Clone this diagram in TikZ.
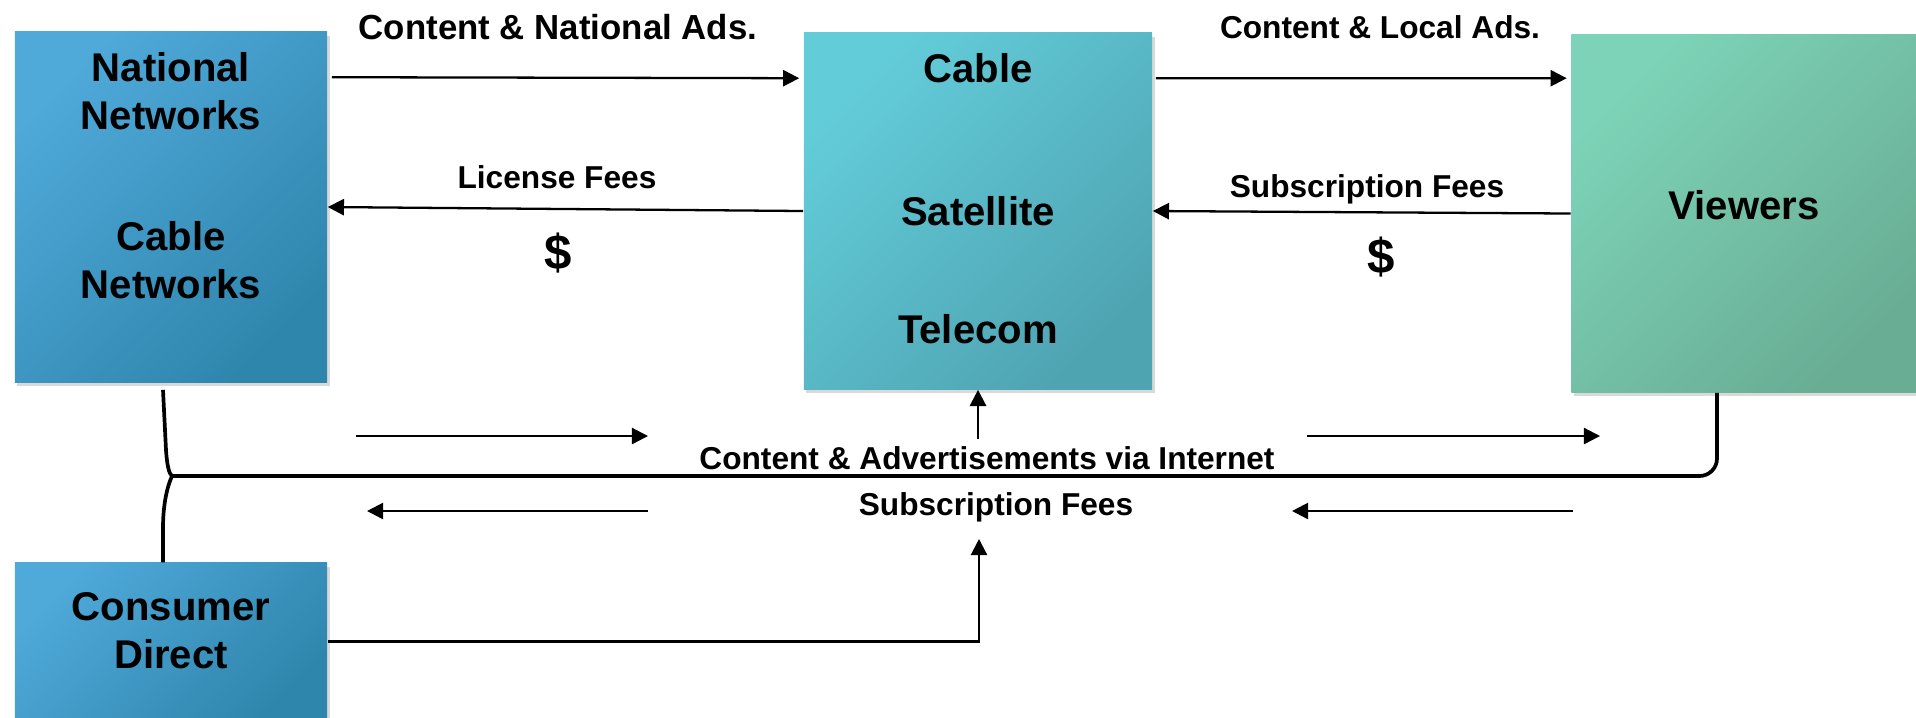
\documentclass[tikz,border=0pt]{standalone}
\usepackage{fontspec}
\setmainfont{Liberation Sans}
\usepackage{tikz}
\usetikzlibrary{positioning}
\usetikzlibrary{arrows.meta, shadows, calc}
\definecolor{netlight}{HTML}{4FA9D9}
\definecolor{netdark}{HTML}{2F86AD}
\definecolor{distlight}{HTML}{63CCD9}
\definecolor{distdark}{HTML}{4FA4B2}
\definecolor{viewlight}{HTML}{7DD3B7}
\definecolor{viewdark}{HTML}{69AD95}
\tikzstyle{party} = [rectangle, align=center, draw=none, font=\fontsize{11.4}{13.7}\selectfont\bfseries, drop shadow={shadow xshift=0.7pt, shadow yshift=-1.2pt, opacity=0.3}]
\tikzstyle{netbox} = [party, top color=netlight, bottom color=netdark, shading angle=45]
\tikzstyle{distbox} = [party, top color=distlight, bottom color=distdark, shading angle=45]
\tikzstyle{viewbox} = [party, top color=viewlight, bottom color=viewdark, shading angle=45]
\tikzstyle{lbl} = [font=\fontsize{9}{11}\selectfont\bfseries, inner sep=2pt]
\tikzstyle{money} = [font=\fontsize{14}{16}\selectfont\bfseries, inner sep=1pt]
\tikzstyle{flow} = [line width=0.65pt, -{Triangle[length=4.6pt, width=4.6pt]}]
\tikzstyle{bus} = [line width=1.05pt]

\begin{document}
\begin{tikzpicture}[x=0.01cm, y=-0.01cm]
      \useasboundingbox (0,0) rectangle (1916,717);
      %%%%%%%%%%%%%%%%%%%%%%%%%%%%%%%%%%%%%%%
      % the four parties
      \draw (171,207) node (nat) [netbox, minimum width=3.12cm, minimum height=3.5cm, text depth=18pt] {National\\Networks\\[20.6pt]Cable\\Networks};
      \draw (978,211) node (dist) [distbox, minimum width=3.48cm, minimum height=3.56cm, text depth=7pt] {Cable\\[26.8pt]Satellite\\[20pt]Telecom};
      \draw (1744,213.5) node (view) [viewbox, minimum width=3.45cm, minimum height=3.57cm, text depth=5pt] {Viewers};
      \draw (171,641.5) node (direct) [netbox, minimum width=3.12cm, minimum height=1.57cm, text depth=6.5pt] {Consumer\\Direct};
      % labels
      \draw (558,27) node (natads) [lbl, font=\fontsize{9.9}{12}\selectfont\bfseries] {Content \& National Ads.};
      \draw (1380,27) node (locads) [lbl] {Content \& Local Ads.};
      \draw (557,177) node (licfee) [lbl] {License Fees};
      \draw (558,253) node (cash1) [money] {\$};
      \draw (1367,189) node (subfee) [lbl] {Subscription Fees};
      \draw (1381,257) node (cash2) [money] {\$};
      \draw (987,458) node (inet) [lbl] {Content \& Advertisements via Internet};
      \draw (996,507) node (subs) [lbl] {Subscription Fees};
      %\draw (171,476) node (hub) [draw] {};
      \coordinate (hub) at (172,476);
      \coordinate (vdrop) at ($(view.south)+(-27,0)$);
      \coordinate (upin) at (979,539);
      % free arrows along the internet line
      \coordinate (o1) at (356,436);
      \coordinate (o2) at (648,436);
      \coordinate (o3) at (1307,436);
      \coordinate (o4) at (1600,436);
      \coordinate (b1) at (648,511);
      \coordinate (b2) at (367,511);
      \coordinate (b3) at (1573,511);
      \coordinate (b4) at (1292,511);
      % top row
      \draw[flow] ($(nat.north east)+(4,46)$)--($(dist.north west)+(-4,46)$);
      \draw[flow] ($(dist.north east)+(3,46)$)--($(view.north west)+(-4,44)$);
      \draw[flow] (dist.west)--(nat.east);
      \draw[flow] (view.west)--(dist.east);
      % internet line
      \draw[bus] ($(nat.south)+(-8,7)$)--(166,450) .. controls (167,465) and (169,474) .. (hub);
      \draw[bus] (hub) .. controls (167,487) and (163,505) .. (163,528) .. controls (163,545) and (163,555) .. ($(direct.north)+(-8,0)$);
      \draw[bus, rounded corners=5] (hub)--(hub -| vdrop)--(vdrop);
      \draw[flow] (o1)--(o2);
      \draw[flow] (o3)--(o4);
      \draw[flow] (b1)--(b2);
      \draw[flow] (b3)--(b4);
      \draw[flow] (inet.north -| dist.south)--(dist.south);
      \draw[flow] (direct.east) -| (upin);
\end{tikzpicture}
\end{document}
